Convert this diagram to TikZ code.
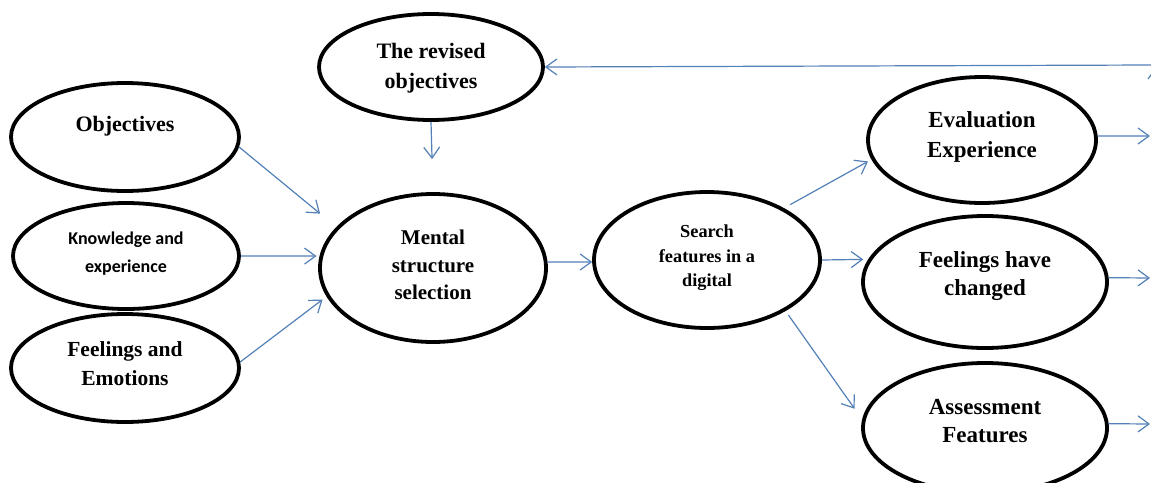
\documentclass[tikz,border=0pt]{standalone}
\usepackage{fontspec}
\setmainfont{Liberation Serif}
\newfontfamily\kfont{Carlito}
\usetikzlibrary{shapes.geometric,arrows.meta}
\definecolor{conncol}{RGB}{84,128,184}
\begin{document}
\begin{tikzpicture}[x=1pt,y=-1pt,
  ell/.style={ellipse,draw=black,line width=3.8pt,inner sep=0pt,fill=white},
  lbl/.style={align=center,inner sep=0pt,font=\bfseries},
  conn/.style={draw=conncol,line width=1.2pt,-{Straight Barb[length=11pt,width=16pt,line width=1.2pt]}}]
\useasboundingbox (0,0) rectangle (1151,482);
\clip (0,0) rectangle (1151,482);
\fill[white] (0,0) rectangle (1151,482);

% ellipses
\node[ell,minimum width=224pt,minimum height=106pt] (rev) at (431,67) {};
\node[ell,minimum width=228pt,minimum height=108pt] (obj) at (125,137) {};
\node[ell,minimum width=226pt,minimum height=106pt] (know) at (126,256) {};
\node[ell,minimum width=228pt,minimum height=108pt] (feel) at (125,368) {};
\node[ell,minimum width=226pt,minimum height=148pt] (mental) at (433,268) {};
\node[ell,minimum width=226pt,minimum height=136pt] (search) at (707,260) {};
\node[ell,minimum width=228pt,minimum height=126pt] (eval) at (982,140) {};
\node[ell,minimum width=244pt,minimum height=132pt] (chg) at (985,282) {};
\node[ell,minimum width=244pt,minimum height=130pt] (ass) at (985,428) {};

% labels
\node[lbl,font=\fontsize{22}{30}\selectfont\bfseries] (trev) at (431,68) {The revised\\objectives};
\node[lbl,font=\fontsize{22}{30}\selectfont\bfseries] (tobj) at (125,126) {Objectives};
\node[lbl,font=\kfont\fontsize{18}{28}\selectfont\bfseries] (tknow) at (126,254) {Knowledge and\\experience};
\node[lbl,font=\fontsize{21.5}{29}\selectfont\bfseries] (tfeel) at (125,364) {Feelings and\\Emotions};
\node[lbl,font=\fontsize{21}{27.5}\selectfont\bfseries] (tmental) at (433,265) {Mental\\structure\\selection};
\node[lbl,font=\fontsize{18.3}{24.5}\selectfont\bfseries] (tsearch) at (707,258) {Search\\features in a\\digital};
\node[lbl,font=\fontsize{23}{30}\selectfont\bfseries] (teval) at (982,137) {Evaluation\\Experience};
\node[lbl,font=\fontsize{23}{28.5}\selectfont\bfseries] (tchg) at (985,276) {Feelings have\\changed};
\node[lbl,font=\fontsize{23}{28.5}\selectfont\bfseries] (tass) at (985,421) {Assessment\\Features};

% free ends
\coordinate (oe) at (1150,136);
\coordinate (oc) at (1150,278);
\coordinate (oa) at (1150,424);
\coordinate (tr) at (1152,65);
\coordinate (ub) at (1156,110);
\coordinate (ut) at (1156,67);

% connectors
\draw[conn,shorten >=21pt] (obj.-5) -- (mental.157);
\draw[conn,shorten >=3pt] (know.east) -- (mental.174);
\draw[conn,shorten >=5pt] (feel.3) -- (mental.195);
\draw[conn,shorten >=33pt] (rev.south) -- (mental.north);
\draw[conn] (mental.3) -- (search.181);
\draw[conn,shorten <=7pt,shorten >=4pt] (search.34) -- (eval.190);
\draw[conn,shorten >=5pt] (search.east) -- (chg.169);
\draw[conn,shorten <=5pt,shorten >=13pt] (search.-33) -- (ass.176);
\draw[conn] (eval.2) -- (oe);
\draw[conn] (chg.2) -- (oc);
\draw[conn] (ass.2) -- (oa);
\draw[conn] (tr) -- (rev.east);
\draw[conn] (ub) -- (ut);
\end{tikzpicture}
\end{document}
